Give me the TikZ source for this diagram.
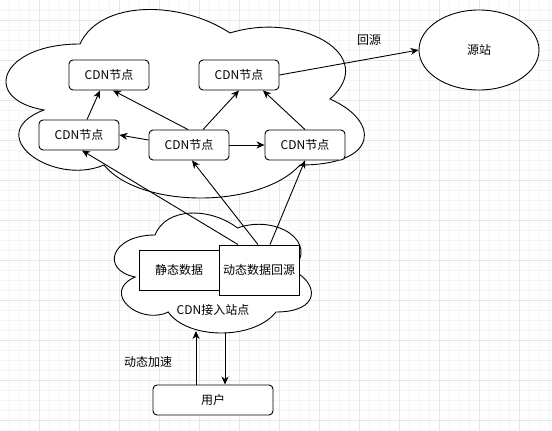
\documentclass[tikz,border=0pt]{standalone}
\usepackage{fontspec}
\setmainfont{Noto Sans CJK SC}
\usetikzlibrary{arrows.meta,shapes.geometric}

\newcommand\lbl{\fontsize{12}{14}\selectfont}

% draw.io style cloud outline inside the box (x0,y0) w x h
\newcommand\drawiocloud[4]{%
  \begin{scope}[shift={(#1,#2)}, x=#3pt, y=-#4pt]
    \draw[cloudline] (0.25,0.25)
      .. controls (0.05,0.25) and (0,0.5) .. (0.16,0.55)
      .. controls (0,0.66) and (0.18,0.9) .. (0.31,0.8)
      .. controls (0.4,1) and (0.7,1) .. (0.8,0.8)
      .. controls (1,0.8) and (1,0.6) .. (0.875,0.5)
      .. controls (1,0.3) and (0.8,0.1) .. (0.625,0.2)
      .. controls (0.5,0.05) and (0.3,0.05) .. (0.25,0.25) -- cycle;
  \end{scope}}

\definecolor{gridminor}{RGB}{245,245,245}
\definecolor{gridmajor}{RGB}{230,230,230}

\tikzset{
  cloudline/.style={draw=black, fill=white, line width=0.9pt},
  cdnbox/.style={draw=black, fill=white, line width=0.9pt, rounded corners=4pt,
    minimum width=80pt, minimum height=30pt, inner sep=0pt, font=\lbl},
  databox/.style={draw=black, fill=white, line width=0.9pt,
    minimum width=80pt, inner sep=0pt, font=\lbl},
  conn/.style={line width=0.9pt, -{Stealth[length=8pt,width=7pt,inset=2.5pt]}},
  txt/.style={inner sep=0pt, font=\lbl},
}

\begin{document}
\begin{tikzpicture}[x=1pt, y=-1pt]
  \useasboundingbox (0,0) rectangle (552,431);
  \fill[white] (0,0) rectangle (552,431);

  % background grid
  \foreach \gx in {9,19,...,549} \draw[gridminor, line width=0.8pt] (\gx,0) -- (\gx,431);
  \foreach \gy in {10,20,...,430} \draw[gridminor, line width=0.8pt] (0,\gy) -- (552,\gy);
  \foreach \gx in {39,79,...,519} \draw[gridmajor, line width=0.8pt] (\gx,0) -- (\gx,431);
  \foreach \gy in {20,60,...,420} \draw[gridmajor, line width=0.8pt] (0,\gy) -- (552,\gy);

  % CDN network cloud
  \drawiocloud{-20}{-11}{400}{220}

  % CDN nodes
  \node[cdnbox] (n1) at (109,75)  {CDN节点};
  \node[cdnbox] (n2) at (239,75)  {CDN节点};
  \node[cdnbox] (n3) at (79,135)  {CDN节点};
  \node[cdnbox] (n4) at (189,145) {CDN节点};
  \node[cdnbox] (n5) at (305,145) {CDN节点};

  % origin server
  \node[draw=black, fill=white, line width=0.9pt, ellipse, minimum width=120pt,
        minimum height=80pt, inner sep=0pt, font=\lbl] (src) at (479,50) {源站};
  \node[txt] (backlbl) at (369,40) {回源};

  % links inside the CDN network
  \draw[conn] ([xshift=8pt]n3.north) -- ([xshift=-9pt]n1.south);
  \draw[conn] ([xshift=-1pt]n4.north) -- ([xshift=4pt]n1.south);
  \draw[conn] ([yshift=5pt]n4.west) -- (n3.east);
  \draw[conn] ([xshift=14pt]n4.north) -- (n2.south);
  \draw[conn] (n4.east) -- (n5.west);
  \draw[conn] (n5.north) -- ([xshift=24pt]n2.south);
  \draw[conn] (n2.east) -- (src.west);

  % access site cloud
  \drawiocloud{100}{200}{220}{140}
  \node[databox, minimum height=40pt] (stat) at (179,270) {静态数据};
  \node[databox, minimum height=50pt] (dyn) at (259,270) {动态数据回源};
  \node[txt] (acclbl) at (213,310) {CDN接入站点};
  \coordinate (accin) at (196,331);
  \coordinate (accout) at (225,333);

  % dynamic data going back through the CDN
  \draw[conn] ([xshift=-21pt]dyn.north) -- ([xshift=3pt]n3.south);
  \draw[conn] ([xshift=-1pt]dyn.north) -- ([xshift=3pt]n4.south);
  \draw[conn] ([xshift=11pt]dyn.north) -- (n5.south);

  % user
  \node[cdnbox, minimum width=120pt] (user) at (213,400) {用户};
  \node[txt] (acclabel) at (148,362) {动态加速};
  \draw[conn] ([xshift=-17pt]user.north) -- (accin);
  \draw[conn] (accout) -- ([xshift=12pt]user.north);
\end{tikzpicture}
\end{document}
